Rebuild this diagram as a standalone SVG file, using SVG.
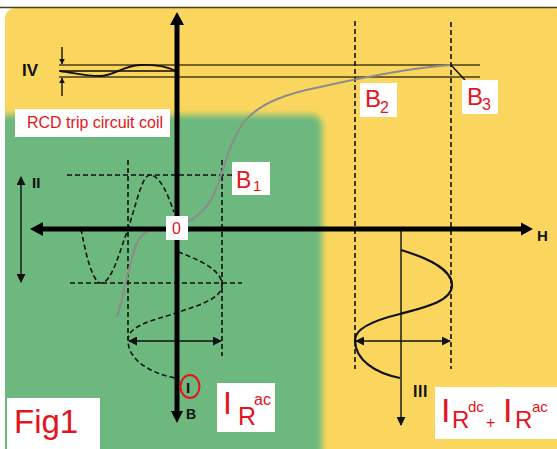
<svg xmlns="http://www.w3.org/2000/svg" width="557" height="449" viewBox="0 0 557 449">
<defs>
<style>
.lbl{fill:#e3141c;font-family:"Liberation Sans",Arial,sans-serif}
.blk{fill:#111;font-family:"Liberation Sans",Arial,sans-serif;font-weight:bold}
.box{fill:#fff}
.dash{fill:none;stroke:#111;stroke-width:1.6;stroke-dasharray:5 3}
.thin{fill:none;stroke:#111;stroke-width:1.4}
.ref{fill:none;stroke:#4a3d18;stroke-width:1.6}
</style>
<filter id="soft" x="-10%" y="-10%" width="120%" height="120%"><feGaussianBlur stdDeviation="3"/></filter>
<marker id="ah" viewBox="0 0 10 10" refX="9" refY="5" markerWidth="6" markerHeight="6" orient="auto-start-reverse" markerUnits="userSpaceOnUse"><path d="M0,0 L10,5 L0,10 Z" fill="#111"/></marker>
<marker id="ah2" viewBox="0 0 10 10" refX="9" refY="5" markerWidth="9" markerHeight="9" orient="auto-start-reverse" markerUnits="userSpaceOnUse"><path d="M0,0 L10,5 L0,10 Z" fill="#111"/></marker>
</defs>

<g id="background">
<rect x="0" y="0" width="557" height="449" fill="#fff"/>
<rect x="5" y="8" width="560" height="450" rx="10" fill="#fbd65e"/>
<rect x="-20" y="115" width="342" height="360" rx="10" fill="#6cb87e" filter="url(#soft)"/>
<rect x="0" y="8" width="5" height="441" fill="#fff"/>
<line x1="0" y1="7.5" x2="557" y2="7.5" stroke="#4a3d18" stroke-width="1.5"/>
</g>

<g id="connectors">
<line class="ref" x1="59" y1="65" x2="480" y2="65"/>
<line class="ref" x1="59" y1="77" x2="480" y2="77"/>
<line x1="59" y1="71" x2="177" y2="71" stroke="#4a3d18" stroke-width="2"/>
<path d="M60,71 C75,73 85,76 100,76 C114,76 122,66 140,65 C156,64 166,66 176,71" fill="none" stroke="#111" stroke-width="1.8"/>
<line class="thin" x1="62" y1="47" x2="62" y2="64" marker-end="url(#ah)"/>
<line class="thin" x1="62" y1="96" x2="62" y2="78" marker-end="url(#ah)"/>
<line x1="451" y1="65" x2="465" y2="80" stroke="#111" stroke-width="1.5"/>
<line class="dash" x1="355" y1="21" x2="355" y2="369"/>
<line class="dash" x1="451" y1="22" x2="451" y2="369"/>
<line class="dash" x1="67" y1="175" x2="232" y2="175"/>
<line class="dash" x1="70" y1="283" x2="242" y2="283"/>
<line class="dash" x1="128" y1="160" x2="128" y2="340"/>
<line class="dash" x1="222" y1="160" x2="222" y2="356"/>
<path d="M117,317 C124,295 129,262 137,243 C142,232 150,229 166,228 C186,227 203,214 212,198 C222,180 227,145 244,122 C260,102 290,93 320,87 C360,78 410,68 450,65" fill="none" stroke="#8c8c8c" stroke-width="2"/>
<path class="dash" d="M81,229 C85,250 92,283 101,283 C112,283 120,250 128,229 C136,205 142,175 150,175 C160,175 168,195 174,212"/>
<path class="dash" d="M178,252 C200,260 222,270 222,285 C222,300 195,306 170,315 C145,322 128,328 128,340 C128,360 150,373 175,378"/>
<line class="thin" x1="129" y1="341" x2="221" y2="341" marker-start="url(#ah2)" marker-end="url(#ah2)"/>
<line class="thin" x1="401" y1="229" x2="401" y2="425" marker-end="url(#ah2)"/>
<path d="M401,250 C428,258 452,270 452,285 C452,302 422,308 400,314 C375,320 355,328 355,340 C355,360 375,373 400,378" fill="none" stroke="#111" stroke-width="2.2"/>
<line class="thin" x1="356" y1="341" x2="450" y2="341" marker-start="url(#ah2)" marker-end="url(#ah2)"/>
<line class="thin" x1="21" y1="177" x2="21" y2="282" marker-start="url(#ah2)" marker-end="url(#ah2)"/>
<line x1="177" y1="22" x2="177" y2="413" stroke="#000" stroke-width="5"/>
<polygon points="177,12 170,25 184,25" fill="#000"/>
<polygon points="177,423 171,411 183,411" fill="#000"/>
<line x1="40" y1="229" x2="523" y2="229" stroke="#000" stroke-width="5"/>
<polygon points="30,229 43,222 43,236" fill="#000"/>
<polygon points="533,229 521,222.5 521,235.5" fill="#000"/>
</g>

<g id="axis-labels">
<text class="blk" x="22" y="76" font-size="17">IV</text>
<text class="blk" x="32" y="188" font-size="15">II</text>
<text class="blk" x="413" y="397" font-size="16" letter-spacing="0.5">III</text>
<text class="blk" x="537" y="241" font-size="15">H</text>
<text class="blk" x="186" y="419" font-size="14">B</text>
<text class="blk" x="186" y="393" font-size="15">I</text>
<ellipse cx="190" cy="386.5" rx="9.5" ry="11.5" fill="none" stroke="#e3141c" stroke-width="2"/>
</g>

<g id="rcd-label">
<rect class="box" x="15" y="109" width="155" height="28"/>
<text class="lbl" x="27" y="128" font-size="16">RCD trip circuit coil</text>
</g>

<g id="origin-label">
<rect class="box" x="166" y="216" width="22" height="24"/>
<text class="lbl" x="172" y="234" font-size="16">0</text>
</g>

<g id="b1-label">
<rect class="box" x="232" y="162" width="38" height="33"/>
<text class="lbl" x="236" y="188" font-size="23">B</text>
<text class="lbl" x="253" y="191" font-size="15">1</text>
</g>

<g id="b2-label">
<rect class="box" x="360" y="83" width="37" height="34"/>
<text class="lbl" x="365" y="107" font-size="24">B</text>
<text class="lbl" x="380" y="113" font-size="16">2</text>
</g>

<g id="b3-label">
<rect class="box" x="462" y="80" width="36" height="34"/>
<text class="lbl" x="467" y="105" font-size="24">B</text>
<text class="lbl" x="482" y="110" font-size="16">3</text>
</g>

<g id="fig-label">
<rect class="box" x="7" y="398" width="93" height="51"/>
<text class="lbl" x="14" y="433" font-size="33">Fig1</text>
</g>

<g id="irac-label">
<rect class="box" x="217" y="383" width="58" height="49"/>
<text class="lbl" x="223" y="414" font-size="32">I</text>
<text class="lbl" x="238" y="425" font-size="25">R</text>
<text class="lbl" x="254" y="405" font-size="16">ac</text>
</g>

<g id="irdc-irac-label">
<rect class="box" x="435" y="387" width="122" height="52"/>
<text class="lbl" x="441" y="422" font-size="34">I</text>
<text class="lbl" x="452" y="428" font-size="24">R</text>
<text class="lbl" x="468" y="412" font-size="15">dc</text>
<text class="lbl" x="486" y="428" font-size="16">+</text>
<text class="lbl" x="503" y="422" font-size="34">I</text>
<text class="lbl" x="515" y="428" font-size="24">R</text>
<text class="lbl" x="532" y="412" font-size="15">ac</text>
</g>
</svg>
